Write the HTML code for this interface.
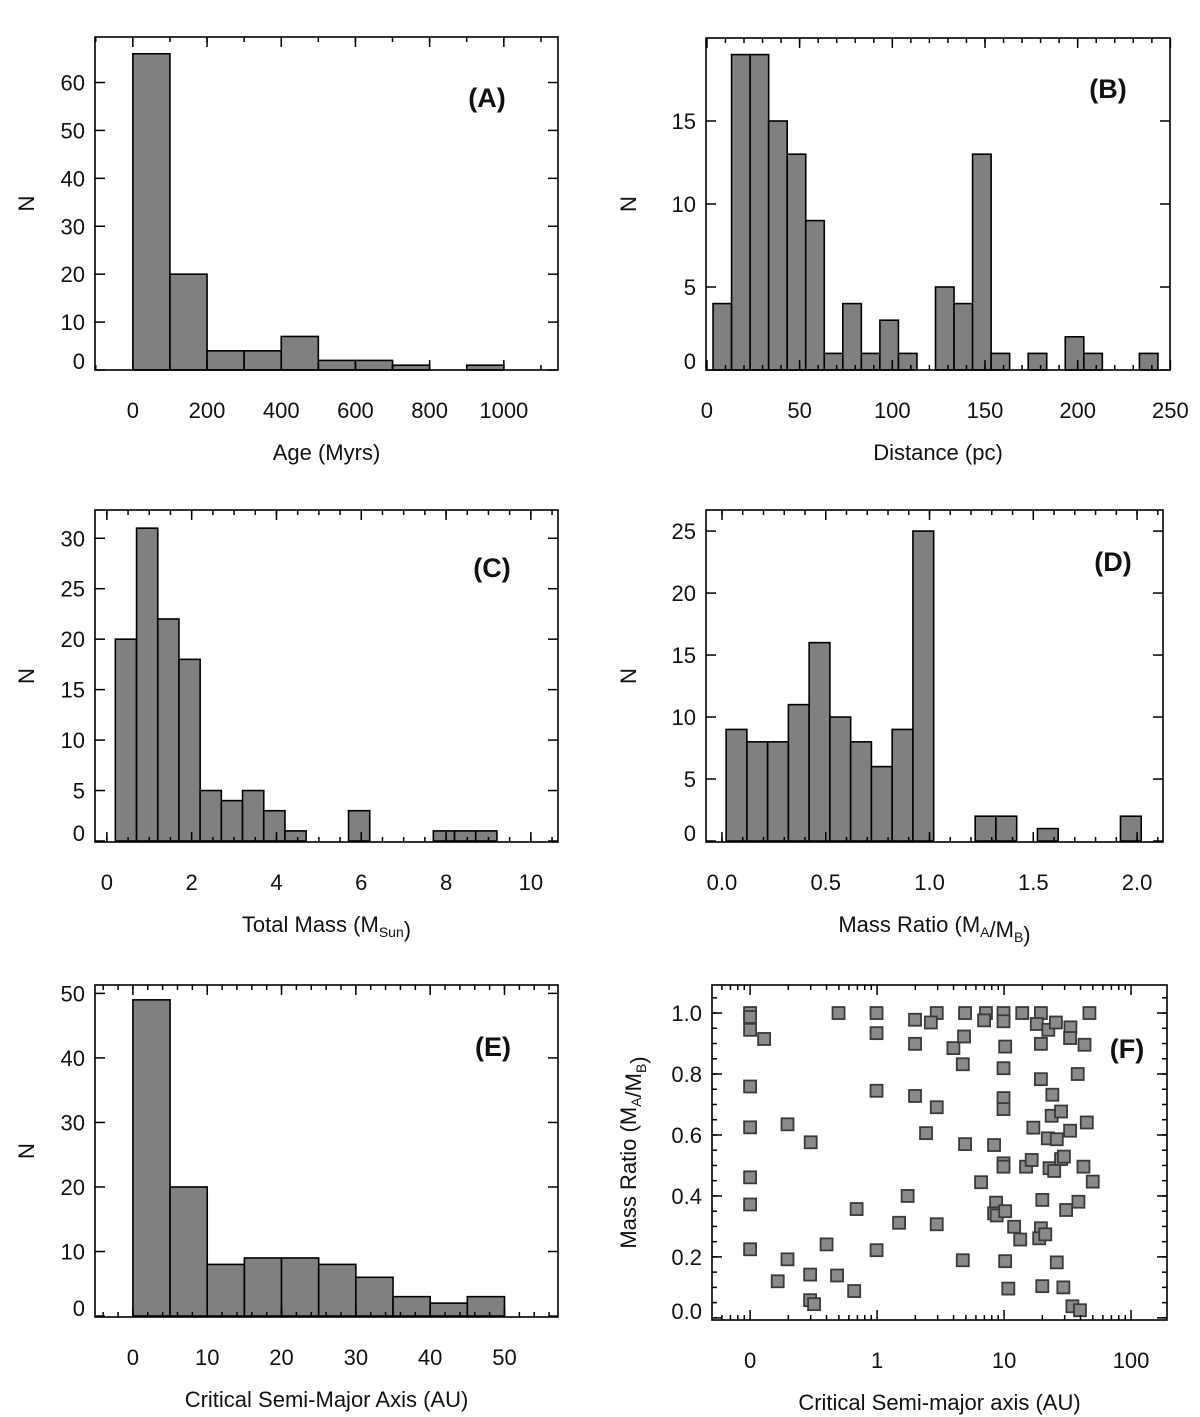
<!DOCTYPE html>
<html><head><meta charset="utf-8"><style>
html,body{margin:0;padding:0;background:#fff}
svg{display:block}
text{font-family:"Liberation Sans","DejaVu Sans",sans-serif;fill:#111}
</style></head><body>
<svg id="fig" width="1200" height="1417" viewBox="0 0 1200 1417" xmlns="http://www.w3.org/2000/svg"></svg>
<script>
// Panel A: Age histogram
const ageBinStart = 0, ageBinWidth = 100;
const ageCounts = [66, 20, 4, 4, 7, 2, 2, 1, 0, 1];
const ageXTicks = [0, 200, 400, 600, 800, 1000];
const ageYTicks = [0, 10, 20, 30, 40, 50, 60];
// Panel B: Distance histogram
const distBinStart = 3.3, distBinWidth = 10;
const distCounts = [4, 19, 19, 15, 13, 9, 1, 4, 1, 3, 1, 0, 5, 4, 13, 1, 0, 1, 0, 2, 1, 0, 0, 1];
const distXTicks = [0, 50, 100, 150, 200, 250];
const distYTicks = [0, 5, 10, 15];
// Panel C: Total mass histogram
const massBinStart = 0.2, massBinWidth = 0.5;
const massCounts = [20, 31, 22, 18, 5, 4, 5, 3, 1, 0, 0, 3, 0, 0, 0, 1, 1, 1];
const massXTicks = [0, 2, 4, 6, 8, 10];
const massYTicks = [0, 5, 10, 15, 20, 25, 30];
// Panel D: Mass ratio histogram
const ratioBinStart = 0.02, ratioBinWidth = 0.1;
const ratioCounts = [9, 8, 8, 11, 16, 10, 8, 6, 9, 25, 0, 0, 2, 2, 0, 1, 0, 0, 0, 2];
const ratioXTicks = [0, 0.5, 1.0, 1.5, 2.0];
const ratioYTicks = [0, 5, 10, 15, 20, 25];
// Panel E: Critical semi-major axis histogram
const axisBinStart = 0, axisBinWidth = 5;
const axisCounts = [49, 20, 8, 9, 9, 8, 6, 3, 2, 3];
const axisXTicks = [0, 10, 20, 30, 40, 50];
const axisYTicks = [0, 10, 20, 30, 40, 50];
// Panel F: scatter
const scatterX = [0.1,0.1,0.1,0.129,0.497,0.99,0.99,1.99,2.95,2.65,4.93,7.2,6.96,9.9,9.9,13.9,19.5,18.1,22.3,25.6,33.3,47,
 1.99,3.99,4.84,10.2,19.5,33.1,43,4.73,9.9,38,19.5,0.1,0.99,1.99,2.95,9.9,9.9,24,23.7,28.1,44.8,0.1,0.197,17,33.1,2.43,22.1,26,
 0.30,4.93,8.34,9.9,9.9,14.9,16.5,22.8,24.8,28.1,29.6,42.2,6.59,49.9,0.1,1.74,20,38.5,0.1,0.69,8.65,8.34,8.75,10.2,30.8,
 1.49,2.95,12,13.4,19.5,18.9,21.1,0.1,0.197,0.40,0.99,4.73,10.2,26,0.165,0.297,0.484,0.66,10.8,20,29.3,0.297,0.319,34.5,39.6];
const scatterY = [1.0,0.987,0.945,0.915,1.0,1.0,0.934,0.978,1.0,0.969,1.0,1.0,0.976,1.0,0.973,1.0,1.0,0.964,0.945,0.969,0.953,1.0,
 0.899,0.885,0.923,0.890,0.899,0.918,0.896,0.832,0.819,0.80,0.783,0.759,0.745,0.728,0.691,0.721,0.685,0.732,0.663,0.677,0.641,0.625,0.635,0.624,0.614,0.606,0.589,0.586,
 0.576,0.570,0.567,0.507,0.496,0.496,0.518,0.491,0.482,0.521,0.529,0.496,0.445,0.447,0.461,0.400,0.387,0.381,0.372,0.357,0.378,0.343,0.336,0.350,0.354,
 0.312,0.307,0.299,0.257,0.294,0.261,0.274,0.225,0.192,0.241,0.222,0.189,0.186,0.182,0.120,0.142,0.139,0.088,0.096,0.104,0.100,0.058,0.045,0.038,0.025];
const scatterXTicks = [0.1, 1, 10, 100];
const scatterXTickLabels = ["0", "1", "10", "100"];
const scatterYTicks = [0, 0.2, 0.4, 0.6, 0.8, 1.0];

const NS = "http://www.w3.org/2000/svg";
const svg = document.getElementById('fig');
function mk(tag, attrs, parent) {
  const e = document.createElementNS(NS, tag);
  for (const k in attrs) e.setAttribute(k, attrs[k]);
  (parent || svg).appendChild(e);
  return e;
}
function txt(str, x, y, size, anchor, parent, weight) {
  const t = mk('text', {x: x, y: y, 'font-size': size, 'text-anchor': anchor || 'middle'}, parent);
  if (weight) t.setAttribute('font-weight', weight);
  t.textContent = str;
  return t;
}

function panel(cfg) {
  const g = mk('g', {});
  
  
  const L = cfg.L, R = cfg.R, T = cfg.T, B = cfg.B;
  const xs = cfg.log
    ? v => L + (Math.log10(v) - cfg.x0) / (cfg.x1 - cfg.x0) * (R - L)
    : v => L + (v - cfg.x0) / (cfg.x1 - cfg.x0) * (R - L);
  const ys = v => B - (v - cfg.y0) / (cfg.y1 - cfg.y0) * (B - T);
  if (cfg.counts) {
    cfg.counts.forEach((c, i) => {
      if (c <= 0) return;
      const x0 = xs(cfg.binStart + i * cfg.binWidth), x1 = xs(cfg.binStart + (i + 1) * cfg.binWidth);
      const r = mk('rect', {x: x0, y: ys(c), width: x1 - x0, height: ys(0) - ys(c), fill: '#808080', stroke: '#000', 'stroke-width': 1.6}, g);
      
      
    });
  }
  if (cfg.px) {
    cfg.px.forEach((xv, i) => {
      const cx = xs(xv), cy = ys(cfg.py[i]);
      const r = mk('rect', {x: cx - 6, y: cy - 6, width: 12, height: 12, fill: '#8a8a8a', stroke: '#3a3a3a', 'stroke-width': 1.8}, g);
      
      
    });
  }
  const fr = mk('rect', {x: L, y: T, width: R - L, height: B - T, fill: 'none', stroke: '#000', 'stroke-width': 1.6}, g);
  
  
  const tk = mk('g', {stroke: '#000', 'stroke-width': 1.5}, g);
  if (cfg.log) {
    for (let d = -2; d <= 3; d++) for (let m = 2; m <= 9; m++) {
      const v = m * Math.pow(10, d); const x = xs(v);
      if (x <= L || x >= R) continue;
      mk('line', {x1: x, y1: B, x2: x, y2: B - 5}, tk);
      mk('line', {x1: x, y1: T, x2: x, y2: T + 5}, tk);
    }
  } else if (cfg.xMinor) {
    for (let v = Math.ceil(cfg.x0 / cfg.xMinor) * cfg.xMinor; v <= cfg.x1; v += cfg.xMinor) {
      const x = xs(v);
      mk('line', {x1: x, y1: B, x2: x, y2: B - 5}, tk);
      mk('line', {x1: x, y1: T, x2: x, y2: T + 5}, tk);
    }
  }
  if (cfg.yMinor) {
    for (let v = Math.ceil(cfg.y0 / cfg.yMinor) * cfg.yMinor; v <= cfg.y1; v += cfg.yMinor) {
      const y = ys(v);
      mk('line', {x1: L, y1: y, x2: L + 5, y2: y}, tk);
      mk('line', {x1: R, y1: y, x2: R - 5, y2: y}, tk);
    }
  }
  cfg.xTicks.forEach((v, i) => {
    const x = xs(v);
    mk('line', {x1: x, y1: B, x2: x, y2: B - 10}, tk);
    mk('line', {x1: x, y1: T, x2: x, y2: T + 10}, tk);
    const lab = cfg.xLabels ? cfg.xLabels[i] : cfg.xFmt(v);
    const t = txt(lab, x, B + 48, 22, 'middle', g);
    
    
  });
  cfg.yTicks.forEach(v => {
    const y = ys(v);
    mk('line', {x1: L, y1: y, x2: L + 10, y2: y}, tk);
    mk('line', {x1: R, y1: y, x2: R - 10, y2: y}, tk);
    const t = txt(cfg.yFmt(v), L - 10, Math.min(y + 8, B - 1), 22, 'end', g);
    
    
  });
  const xt = txt('', (L + R) / 2, B + 90, 22, 'middle', g);
  xt.innerHTML = cfg.xTitle;
  
  
  const cy = (T + B) / 2;
  const yt = txt('', cfg.yTitleX, cy, 22, 'middle', g);
  yt.setAttribute('transform', 'rotate(-90 ' + cfg.yTitleX + ' ' + cy + ')');
  yt.innerHTML = cfg.yTitle;
  
  
  const pl = txt(cfg.label, cfg.labX, cfg.labY, 27, 'middle', g, 'bold');
  
  
}
const intF = v => String(v), oneF = v => v.toFixed(1);
const sub = s => '<tspan font-size="14" dy="5">' + s + '</tspan><tspan dy="-5"></tspan>';

panel({name:'panel-a-age', L:95, R:558, T:37, B:370, x0:-102, x1:1146, y0:0, y1:69.5,
  counts: ageCounts, binStart: ageBinStart, binWidth: ageBinWidth,
  xTicks: ageXTicks, yTicks: ageYTicks, xFmt:intF, yFmt:intF, xMinor:100, yMinor:0,
  xTitle:'Age (Myrs)', yTitle:'N', yTitleX:34, label:'(A)', labX:487, labY:107});
panel({name:'panel-b-distance', L:706, R:1170, T:38, B:370, x0:-0.5, x1:249.8, y0:0, y1:20,
  counts: distCounts, binStart: distBinStart, binWidth: distBinWidth,
  xTicks: distXTicks, yTicks: distYTicks, xFmt:intF, yFmt:intF, xMinor:10, yMinor:0,
  xTitle:'Distance (pc)', yTitle:'N', yTitleX:636, label:'(B)', labX:1108, labY:98});
panel({name:'panel-c-total-mass', L:95, R:558, T:510, B:842, x0:-0.28, x1:10.64, y0:-0.1, y1:32.8,
  counts: massCounts, binStart: massBinStart, binWidth: massBinWidth,
  xTicks: massXTicks, yTicks: massYTicks, xFmt:intF, yFmt:intF, xMinor:0.5, yMinor:0,
  xTitle:'Total Mass (M'+sub('Sun')+')', yTitle:'N', yTitleX:34, label:'(C)', labX:492, labY:577});
panel({name:'panel-d-mass-ratio', L:706, R:1163, T:510, B:842, x0:-0.077, x1:2.125, y0:-0.08, y1:26.7,
  counts: ratioCounts, binStart: ratioBinStart, binWidth: ratioBinWidth,
  xTicks: ratioXTicks, yTicks: ratioYTicks, xFmt:oneF, yFmt:intF, xMinor:0.1, yMinor:0,
  xTitle:'Mass Ratio (M'+sub('A')+'/M'+sub('B')+')', yTitle:'N', yTitleX:636, label:'(D)', labX:1113, labY:571});
panel({name:'panel-e-critical-axis', L:95, R:558, T:985, B:1317, x0:-5.1, x1:57.2, y0:-0.15, y1:51.3,
  counts: axisCounts, binStart: axisBinStart, binWidth: axisBinWidth,
  xTicks: axisXTicks, yTicks: axisYTicks, xFmt:intF, yFmt:intF, xMinor:2, yMinor:0,
  xTitle:'Critical Semi-Major Axis (AU)', yTitle:'N', yTitleX:34, label:'(E)', labX:493, labY:1056});
panel({name:'panel-f-scatter', L:712, R:1167, T:985, B:1320, log:true, x0:-1.30, x1:2.283, y0:-0.007, y1:1.092,
  px: scatterX, py: scatterY,
  xTicks: scatterXTicks, xLabels: scatterXTickLabels, yTicks: scatterYTicks, yFmt:oneF, yMinor:0.05,
  xTitle:'Critical Semi-major axis (AU)', yTitle:'Mass Ratio (M'+sub('A')+'/M'+sub('B')+')', yTitleX:636, label:'(F)', labX:1127, labY:1058});
</script>
</body></html>
